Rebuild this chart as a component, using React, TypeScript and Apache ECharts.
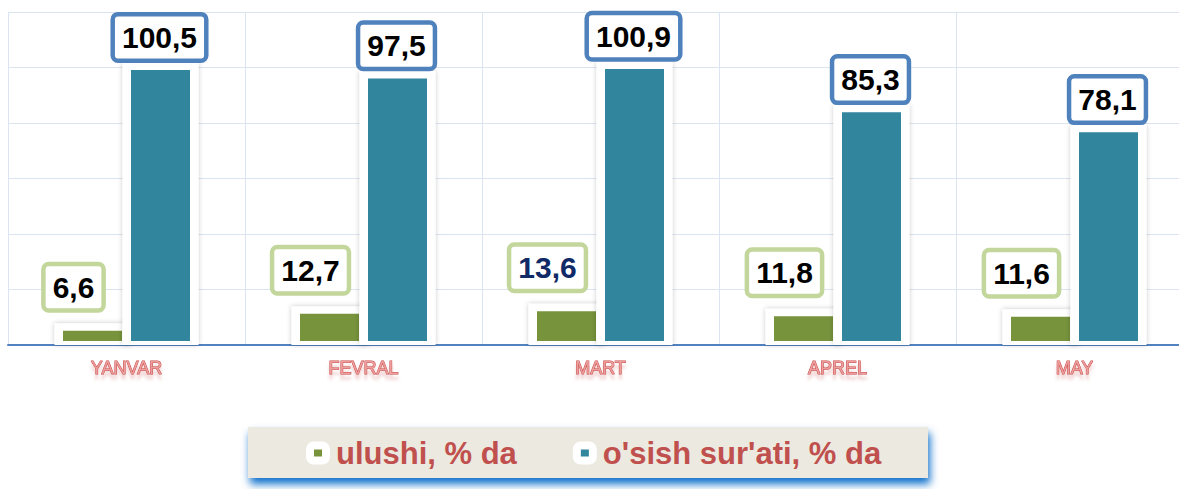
import React, { useEffect, useRef } from 'react';
import * as echarts from 'echarts';

const categories = ['YANVAR', 'FEVRAL', 'MART', 'APREL', 'MAY'];
const shareValues = [6.6, 12.7, 13.6, 11.8, 11.6];
const growthValues = [100.5, 97.5, 100.9, 85.3, 78.1];
const seriesNames = ['ulushi, % da', "o'sish sur'ati, % da"];
const yMin = 0;
const yMax = 120;
const yInterval = 20;

const GREEN = '#77933c';
const TEAL = '#31859c';
const FONT = '"Liberation Sans", Arial, Helvetica, sans-serif';
const greenLabelColors = ['#000', '#000', '#0f2a66', '#000', '#000'];
const tealLabelColors = ['#000', '#000', '#000', '#000', '#000'];

function fmt(v: number) {
  return v.toFixed(1).replace('.', ',');
}

function makeRender(opts: {
  offset: number;
  color: string;
  boxColor: string;
  labelDx: number;
  labelDy: number;
  labelColors: string[];
}) {
  return (params: any, api: any) => {
    const i = api.value(0);
    const v = api.value(1);
    const pt = api.coord([i, v]);
    const base = api.coord([i, 0])[1];
    const cx = pt[0] + opts.offset;
    const y = pt[1];
    return {
      type: 'group',
      children: [
        {
          type: 'rect',
          shape: { x: cx - 38, y: y - 3.5, width: 76, height: base - y + 3.5 },
          style: { fill: '#fff', shadowBlur: 5, shadowColor: 'rgba(0,0,0,0.22)' },
        },
        {
          type: 'rect',
          shape: { x: cx - 29.5, y: y + 4, width: 59, height: Math.max(0, base - y - 8) },
          style: { fill: opts.color },
        },
        {
          type: 'text',
          x: cx + opts.labelDx,
          y: y + opts.labelDy,
          style: {
            text: fmt(v),
            fill: opts.labelColors[i],
            fontSize: 30,
            fontWeight: 'bold',
            fontFamily: FONT,
            align: 'center',
            verticalAlign: 'middle',
            lineHeight: 30,
            backgroundColor: '#fff',
            borderColor: opts.boxColor,
            borderWidth: 4.5,
            borderRadius: 3,
            padding: [6, 7],
          },
        },
      ],
    };
  };
}

export default function App() {
  const ref = useRef<HTMLDivElement>(null);
  useEffect(() => {
    if (!ref.current) return;
    const chart = echarts.init(ref.current, null, { renderer: 'svg' });
    chart.setOption({
      animation: false,
      backgroundColor: '#fff',
      grid: {
        left: 8,
        top: 12,
        width: 1185,
        height: 333,
        containLabel: false,
        outerBoundsMode: 'none',
      },
      graphic: {
        elements: [
          {
            type: 'rect',
            z: 0,
            shape: { x: 248, y: 427, width: 680, height: 51 },
            style: {
              fill: '#ece9e0',
              shadowColor: 'rgba(0,104,200,0.95)',
              shadowBlur: 8,
              shadowOffsetY: 6,
              shadowOffsetX: 2,
            },
          },
        ],
      },
      legend: {
        z: 10,
        left: 306,
        top: 437,
        padding: 0,
        icon: 'roundRect',
        itemWidth: 16,
        itemHeight: 15,
        itemGap: 56,
        selectedMode: false,
        itemStyle: { borderColor: '#fff', borderWidth: 8 },
        textStyle: {
          fontSize: 31,
          fontWeight: 'bold',
          color: '#c0504d',
          fontFamily: FONT,
          lineHeight: 32,
          padding: [0, 0, 0, 5],
        },
        data: seriesNames,
      },
      xAxis: {
        type: 'category',
        data: categories,
        boundaryGap: true,
        axisTick: { show: false },
        axisLine: { lineStyle: { color: '#5282bf', width: 2 } },
        splitLine: { show: true, lineStyle: { color: '#dbe5f1', width: 1 } },
        axisLabel: {
          fontSize: 18,
          fontFamily: FONT,
          color: '#ec9e9d',
          textBorderColor: '#c94848',
          textBorderWidth: 1,
          margin: 14,
          textShadowColor: 'rgba(200,80,77,0.25)',
          textShadowBlur: 3,
          textShadowOffsetY: 5,
        },
      },
      yAxis: {
        type: 'value',
        min: yMin,
        max: yMax,
        interval: yInterval,
        axisLabel: { show: false },
        axisLine: { show: false },
        axisTick: { show: false },
        splitLine: { show: true, lineStyle: { color: '#dbe5f1', width: 1 } },
      },
      series: [
        {
          name: seriesNames[0],
          type: 'custom',
          itemStyle: { color: GREEN },
          encode: { x: 0, y: 1 },
          data: shareValues.map((v, i) => [i, v]),
          renderItem: makeRender({
            offset: -34,
            color: GREEN,
            boxColor: '#c3d69b',
            labelDx: -19,
            labelDy: -39.5,
            labelColors: greenLabelColors,
          }),
        },
        {
          name: seriesNames[1],
          type: 'custom',
          itemStyle: { color: TEAL },
          encode: { x: 0, y: 1 },
          data: growthValues.map((v, i) => [i, v]),
          renderItem: makeRender({
            offset: 34,
            color: TEAL,
            boxColor: '#4f81bd',
            labelDx: -1,
            labelDy: -28.7,
            labelColors: tealLabelColors,
          }),
        },
      ],
    });
    return () => chart.dispose();
  }, []);
  return (
    <div
      ref={ref}
      style={{ position: 'fixed', left: 0, top: 0, width: 1179, height: 489, background: '#fff' }}
    />
  );
}
